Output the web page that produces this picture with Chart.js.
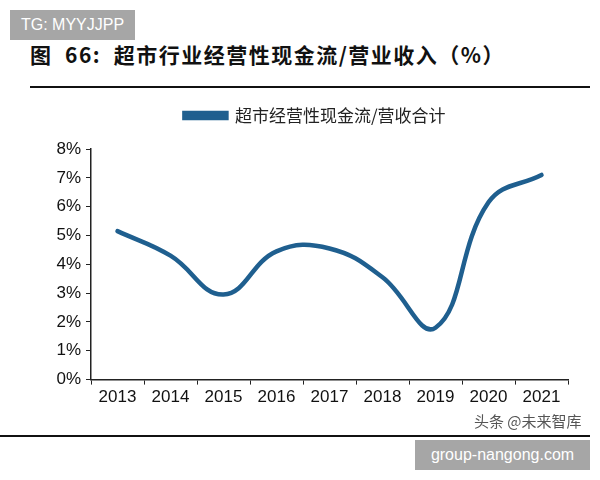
<!DOCTYPE html>
<html><head><meta charset="utf-8">
<script src="https://cdn.jsdelivr.net/npm/chart.js@4/dist/chart.umd.min.js"></script>
<style>
html,body{margin:0;padding:0;background:#fff;width:600px;height:480px;overflow:hidden;position:relative;font-family:"Liberation Sans",Arial,sans-serif;}
#wm1{position:absolute;left:10px;top:10px;width:125px;height:30px;background:#a6a6a6;color:#fff;font:16px "Liberation Sans",Arial,sans-serif;line-height:30px;text-align:center;}
#title{position:absolute;left:30px;top:39px;font:bold 21px "Noto Sans CJK SC",sans-serif;color:#111;white-space:nowrap;letter-spacing:1.5px;}
#rule1{position:absolute;left:30px;top:86px;width:560px;height:2px;background:#111;}
#rule2{position:absolute;left:0px;top:435px;width:590px;height:2px;background:#111;}
#src{position:absolute;left:474px;top:410px;font:15px "Noto Sans CJK SC",sans-serif;color:#555;}
#wm2{position:absolute;left:415px;top:440px;width:175px;height:30px;background:#a6a6a6;color:#fff;font:16px "Liberation Sans",Arial,sans-serif;line-height:30px;text-align:center;}
#box{position:absolute;left:30px;top:95px;width:570px;height:320px;}
</style></head>
<body>
<div id="wm1">TG: MYYJJPP</div>
<div id="title">图&nbsp; 66:&nbsp; 超市行业经营性现金流/营业收入（%）</div>
<div id="rule1"></div>
<div id="box"><canvas id="c" width="570" height="320"></canvas></div>
<div id="src">头条 @未来智库</div>
<div id="rule2"></div>
<div id="wm2">group-nangong.com</div>
<script>
const categories = ["2013","2014","2015","2016","2017","2018","2019","2020","2021"];
const seriesName = "超市经营性现金流/营收合计";
const seriesValues = [5.15, 4.3, 2.95, 4.45, 4.55, 3.55, 1.8, 6.15, 7.1];
const yTicks = [0,1,2,3,4,5,6,7,8];
const color = "#1f5f8f";

const legendSpacer = {
  id: 'legendSpacer',
  beforeInit(chart) {
    const fit = chart.legend.fit;
    chart.legend.fit = function () { fit.bind(chart.legend)(); this.height += 15; };
  },
  afterLayout(chart) {
    chart.legend.left += 16;
    chart.legend.right += 16;
  }
};

new Chart(document.getElementById('c'), {
  type: 'line',
  plugins: [legendSpacer],
  data: {
    labels: categories,
    datasets: [{
      label: seriesName,
      data: seriesValues,
      borderColor: color,
      backgroundColor: color,
      borderWidth: 4.5,
      pointRadius: 0,
      tension: 0.42,
      borderCapStyle: 'round',
      fill: false
    }]
  },
  options: {
    responsive: false,
    animation: false,
    layout: { padding: { left: 0, right: 32, top: 2, bottom: 4 } },
    plugins: {
      legend: {
        display: true,
        position: 'top',
        labels: {
          boxWidth: 42, boxHeight: 5,
          color: '#222',
          font: { family: '"Noto Sans CJK SC", sans-serif', size: 17 },
          padding: 10
        }
      },
      tooltip: { enabled: false }
    },
    scales: {
      x: {
        offset: true,
        grid: { display: true, offset: true, drawOnChartArea: false, drawTicks: true, tickLength: 5, color: '#222', lineWidth: 1 },
        border: { display: true, color: '#222', width: 1.5 },
        ticks: { color: '#111', font: { family: '"Liberation Sans", Arial, sans-serif', size: 17 }, padding: 3, maxRotation: 0, autoSkip: false }
      },
      y: {
        min: 0, max: 8,
        afterFit: (s) => { s.width = 61; },
        afterBuildTicks: (s) => { s.ticks = yTicks.map(v => ({ value: v })); },
        grid: { display: true, drawOnChartArea: false, drawTicks: true, tickLength: 5, color: '#222', lineWidth: 1 },
        border: { display: true, color: '#222', width: 1.5 },
        ticks: { color: '#111', font: { family: '"Liberation Sans", Arial, sans-serif', size: 17 }, padding: 5, callback: (v) => v + '%' }
      }
    }
  }
});
</script>
</body></html>
